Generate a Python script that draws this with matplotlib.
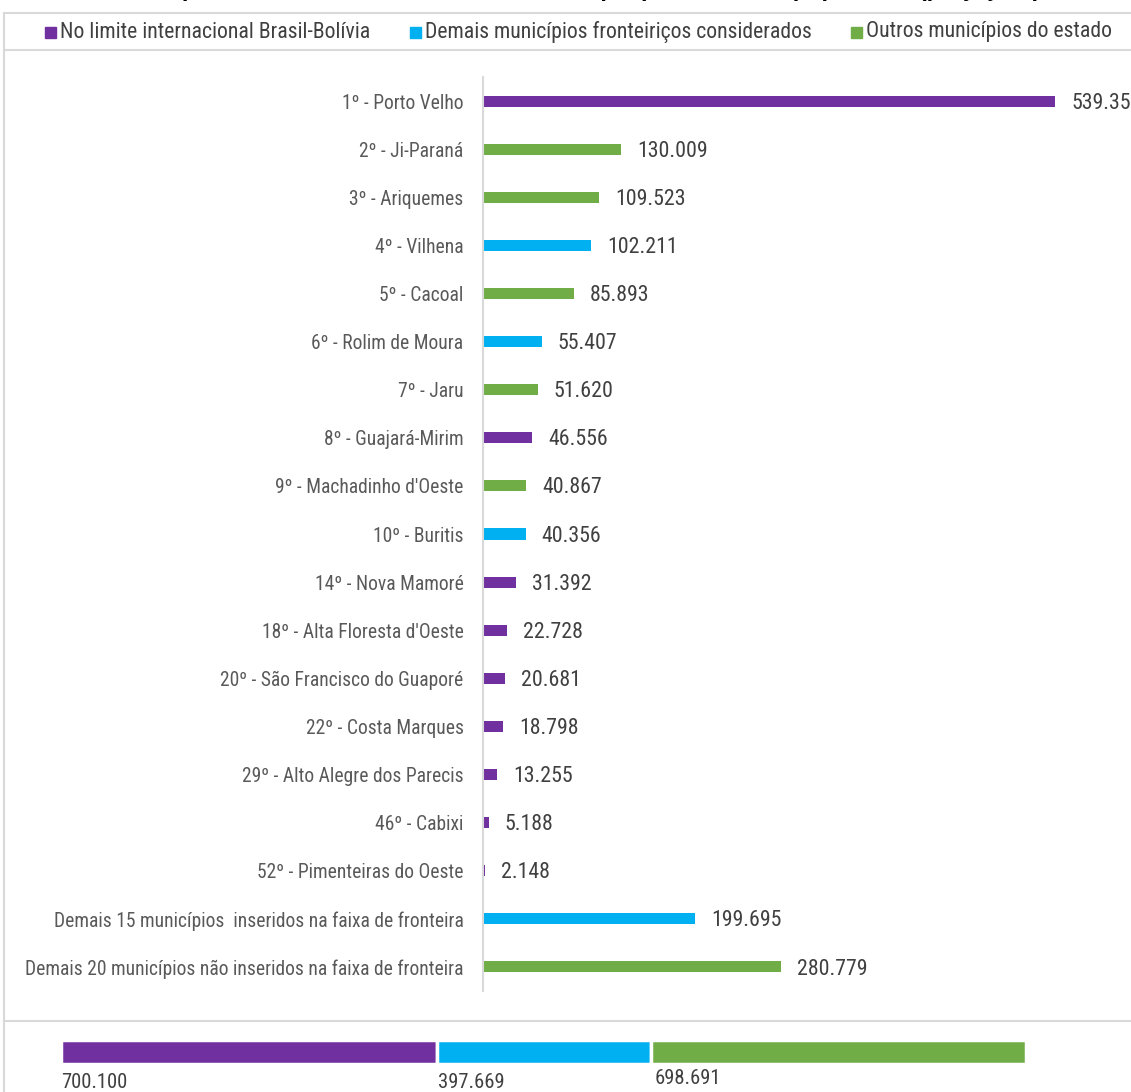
import matplotlib
matplotlib.use("Agg")
import matplotlib.pyplot as plt
from matplotlib.lines import Line2D
from matplotlib.patches import Rectangle
from matplotlib import font_manager

names = {f.name for f in font_manager.fontManager.ttflist}
narrow = [n for n in sorted(names) if ("Narrow" in n or "Condensed" in n)]
pref = [n for n in ["Liberation Sans Narrow", "Roboto Condensed", "Open Sans Condensed"] if n in names]
FONT = pref[0] if pref else (narrow[0] if narrow else "Liberation Sans")
plt.rcParams['font.family'] = [FONT, 'DejaVu Sans']

categories = [
    "1º - Porto Velho", "2º - Ji-Paraná", "3º - Ariquemes", "4º - Vilhena",
    "5º - Cacoal", "6º - Rolim de Moura", "7º - Jaru", "8º - Guajará-Mirim",
    "9º - Machadinho d'Oeste", "10º - Buritis", "14º - Nova Mamoré",
    "18º - Alta Floresta d'Oeste", "20º - São Francisco do Guaporé",
    "22º - Costa Marques", "29º - Alto Alegre dos Parecis", "46º - Cabixi",
    "52º - Pimenteiras do Oeste",
    "Demais 15 municípios  inseridos na faixa de fronteira",
    "Demais 20 municípios não inseridos na faixa de fronteira",
]
values = [539354, 130009, 109523, 102211, 85893, 55407, 51620, 46556, 40867,
          40356, 31392, 22728, 20681, 18798, 13255, 5188, 2148, 199695, 280779]
groups = [0, 2, 2, 1, 2, 1, 2, 0, 2, 1, 0, 0, 0, 0, 0, 0, 0, 1, 2]

group_names = ["No limite internacional Brasil-Bolívia",
               "Demais municípios fronteiriços considerados",
               "Outros municípios do estado"]
group_totals = [700100, 397669, 698691]
colors = ["#7030A0", "#00B0F0", "#70AD47"]

title = ("Rondônia: municípios na faixa de fronteira, com destaque para os mais populosos "
         "(projeção para 2020)")

def fmt(v):
    return f"{v:,}".replace(",", ".")

W, H = 1131, 1092
fig = plt.figure(figsize=(W / 100, H / 100), dpi=100)
fig.patch.set_facecolor("white")
renderer = fig.canvas.get_renderer()

def fit_size(s, target_px, base=14.0, **kw):
    t = fig.text(0, 0, s, fontsize=base, **kw)
    w = t.get_window_extent(renderer).width
    t.remove()
    return base * target_px / w

def fx(px):
    return px / W

def fy(py):
    return 1 - py / H

CAT_FS = fit_size(categories[-1], 441)
VAL_FS = fit_size("130.009", 71)
LEG_FS = fit_size(group_names[0], 313)
BOT_FS = fit_size("700.100", 67)

# title (cut off at the top as in the reference)
fig.text(0.5, fy(-4), title, ha="center", va="baseline", fontsize=17,
         fontweight="bold", color="black", family=["Liberation Sans", "DejaVu Sans"])

# frame lines
gray = "#D9D9D9"
for y in (13, 50, 1021):
    fig.add_artist(Line2D([fx(4), 1], [fy(y), fy(y)], color=gray, lw=1.5))
fig.add_artist(Line2D([fx(4), fx(4)], [fy(13), 0], color=gray, lw=1.5))

# legend
leg_x = [45, 410, 851]
for x, name, c in zip(leg_x, group_names, colors):
    fig.add_artist(Rectangle((fx(x), fy(38)), fx(11), 11 / H, color=c,
                             transform=fig.transFigure))
    fig.text(fx(x + 15), fy(32), name, ha="left", va="center", fontsize=LEG_FS,
             color="#404040")

# main bar chart
ax = fig.add_axes([fx(483), fy(991), fx(W - 483), (991 - 77) / H])
y = list(range(len(categories)))
bar_colors = [colors[g] for g in groups]
ax.barh(y, values, height=0.23, color=bar_colors)
ax.set_ylim(len(categories) - 0.5, -0.5)
ax.set_xlim(0, 539354 * (W - 483) / 572)
ax.set_yticks(y)
ax.set_yticklabels(categories, fontsize=CAT_FS, color="#595959")
ax.tick_params(axis="y", length=0, pad=14)
ax.set_xticks([])
for s in ("top", "right", "bottom"):
    ax.spines[s].set_visible(False)
ax.spines["left"].set_color(gray)
ax.spines["left"].set_linewidth(1.5)
for yi, v in zip(y, values):
    ax.annotate(fmt(v), (v, yi), xytext=(11.5, -1.5), textcoords="offset points",
                ha="left", va="center", fontsize=VAL_FS, color="#404040",
                annotation_clip=False)

# bottom stacked bar
ax2 = fig.add_axes([fx(61), fy(1064), fx(1026 - 61), 24 / H])
left = 0
for v, c in zip(group_totals, colors):
    ax2.barh(0, v, left=left, height=1, color=c, edgecolor="white", linewidth=2.5)
    left += v
ax2.set_xlim(0, sum(group_totals))
ax2.set_ylim(-0.5, 0.5)
ax2.axis("off")
lab_pos = [(61, 1083), (438, 1083), (655, 1078)]
for (lx, ly), v in zip(lab_pos, group_totals):
    fig.text(fx(lx), fy(ly), fmt(v), ha="left", va="center", fontsize=BOT_FS,
             color="#404040")

fig.savefig("out.png", dpi=100)
